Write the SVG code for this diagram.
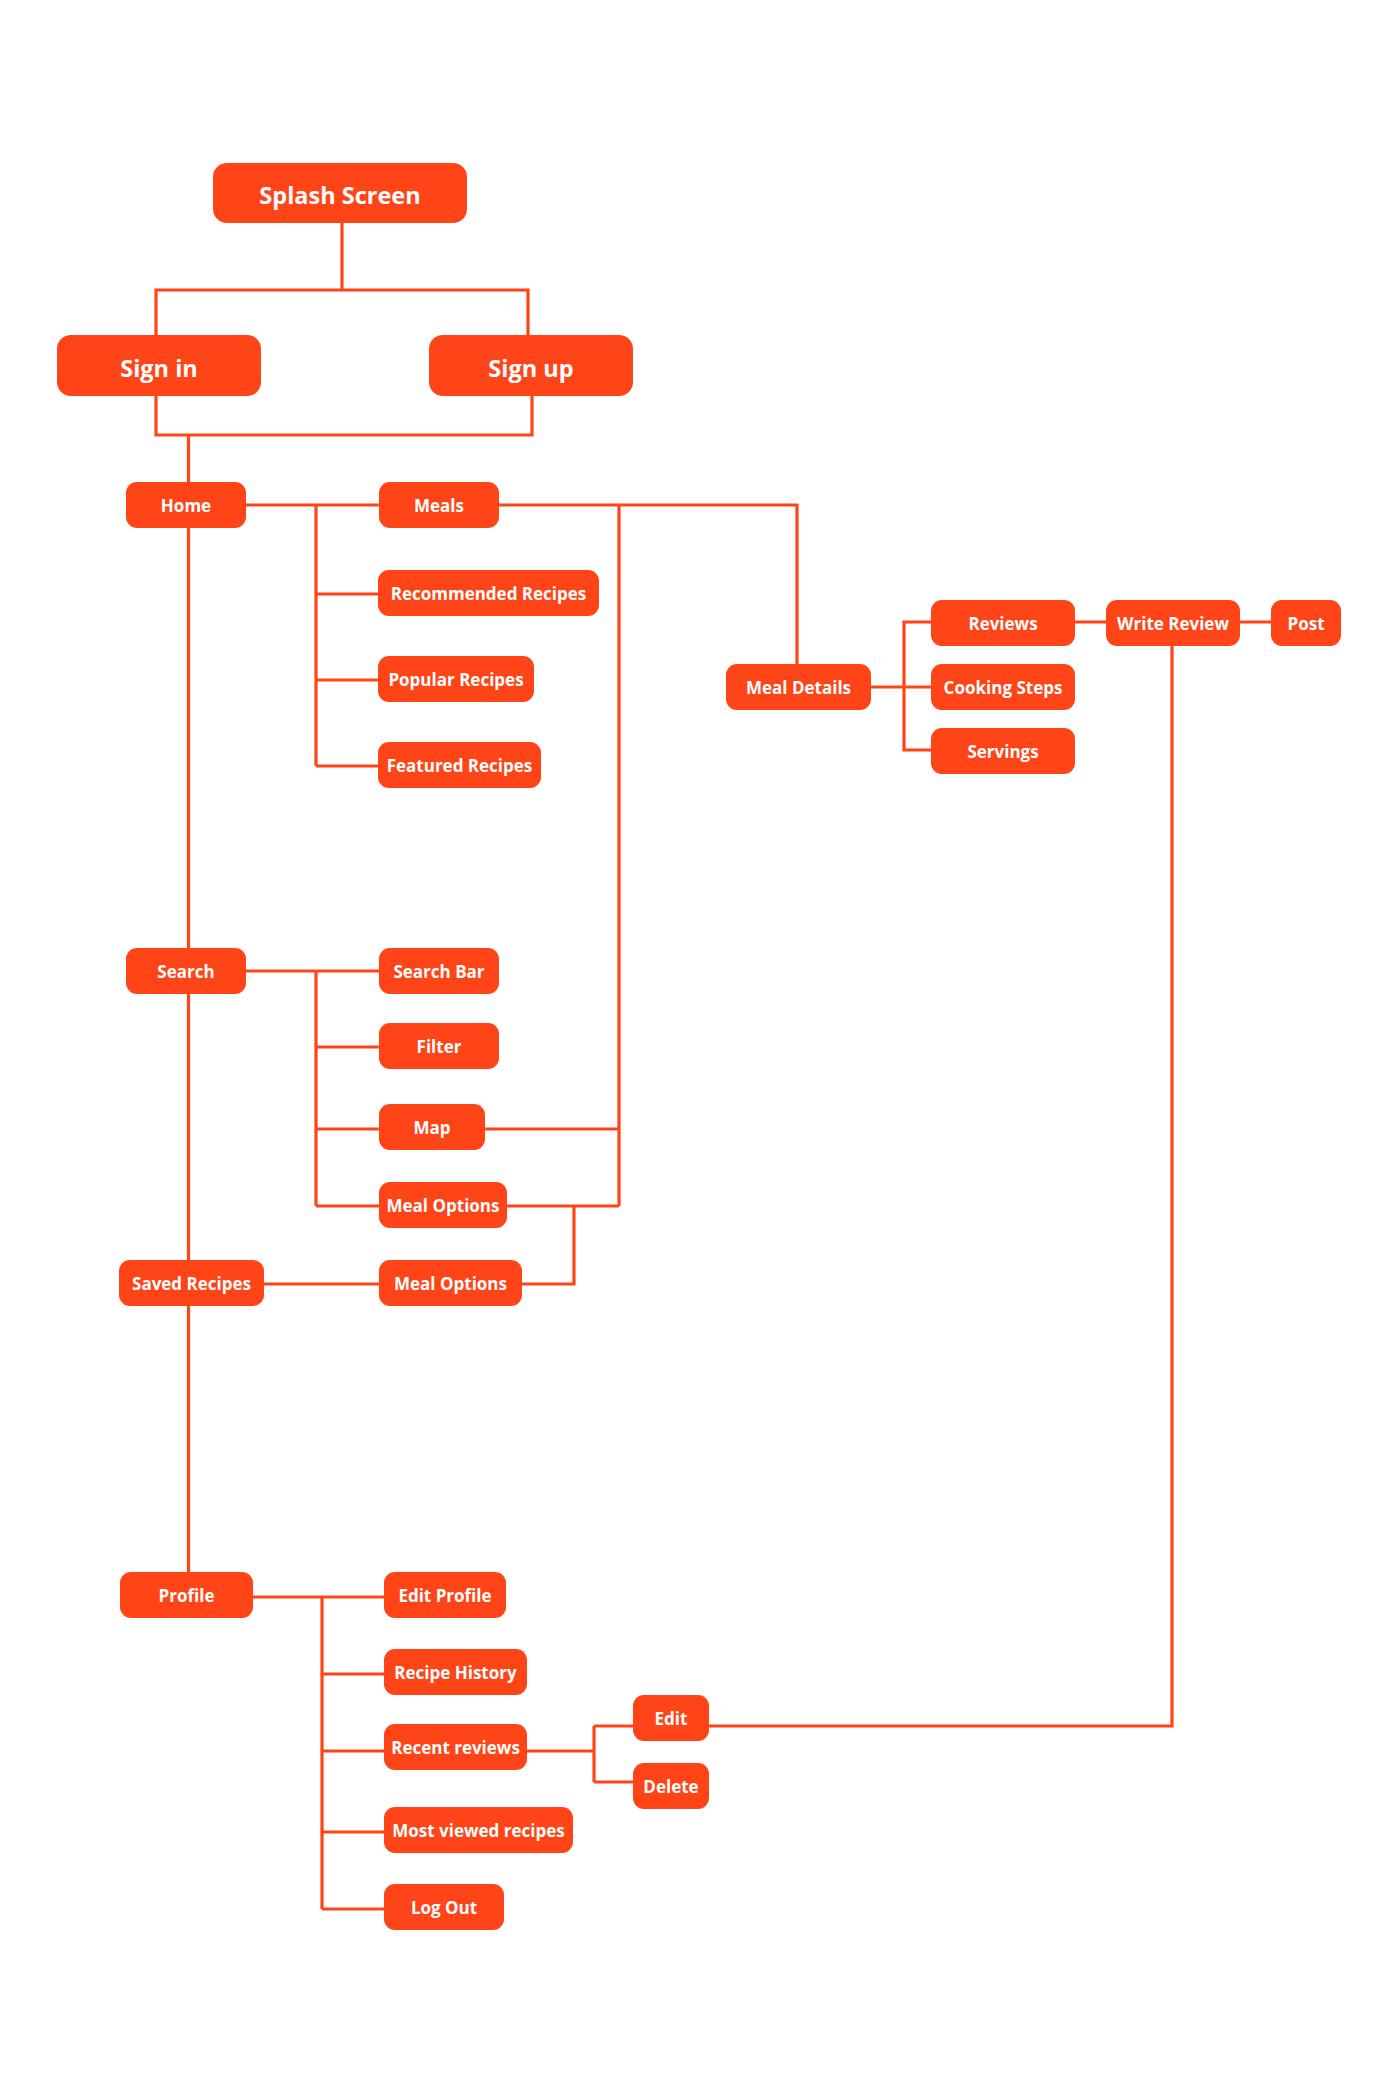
<svg xmlns="http://www.w3.org/2000/svg" width="1400" height="2094" viewBox="0 0 1400 2094">
<style>
.n rect{fill:#FF4417}
.n text{fill:#fff;font-family:"Open Sans","Noto Sans",sans-serif;font-weight:700;text-anchor:middle;font-size:17px}
.big text{font-size:23.5px}
#conn path{fill:none;stroke:#FF4417;stroke-width:3.2}
</style>
<rect width="1400" height="2094" fill="#fff"/>
<g id="conn">
<path d="M342 223V290M156 335V290H528V335"/>
<path d="M156 396V435H532V396M188.5 435V482"/>
<path d="M246 505H379M316 505V766M316 594H378M316 680H378M316 766H378"/>
<path d="M499 505H797V664M619 505V1206"/>
<path d="M871 687H931M931 622H904V750H931"/>
<path d="M1075 622H1106M1240 622H1271M1172 646V1726H709"/>
<path d="M188.5 528V948M246 971H379M316 971V1206M316 1047H379M316 1129H379M316 1206H379"/>
<path d="M485 1129H619M507 1206H619M574 1206V1284H522"/>
<path d="M188.5 994V1260M264 1284H379M188.5 1306V1572"/>
<path d="M253 1597H384M322 1597V1909M322 1674H384M322 1751H384M322 1832H384M322 1909H384"/>
<path d="M527 1751H594M594 1726V1782M594 1726H633M594 1782H633"/>
</g>
<g id="splash" class="n big"><rect x="213" y="163" width="254" height="60" rx="14"/><text x="340" y="203.5">Splash Screen</text></g>
<g id="signin" class="n big"><rect x="57" y="335" width="204" height="61" rx="14"/><text x="159" y="376.5">Sign in</text></g>
<g id="signup" class="n big"><rect x="429" y="335" width="204" height="61" rx="14"/><text x="531" y="376.5">Sign up</text></g>
<g id="home" class="n"><rect x="126" y="482" width="120" height="46" rx="11"/><text x="186" y="512">Home</text></g>
<g id="meals" class="n"><rect x="379" y="482" width="120" height="46" rx="11"/><text x="439" y="512">Meals</text></g>
<g id="recommended" class="n"><rect x="378" y="570" width="221" height="46" rx="11"/><text x="488.5" y="600">Recommended Recipes</text></g>
<g id="popular" class="n"><rect x="378" y="656" width="156" height="46" rx="11"/><text x="456" y="686">Popular Recipes</text></g>
<g id="featured" class="n"><rect x="378" y="742" width="163" height="46" rx="11"/><text x="459.5" y="772">Featured Recipes</text></g>
<g id="mealdetails" class="n"><rect x="726" y="664" width="145" height="46" rx="11"/><text x="798.5" y="694">Meal Details</text></g>
<g id="reviews" class="n"><rect x="931" y="600" width="144" height="46" rx="11"/><text x="1003" y="630">Reviews</text></g>
<g id="cooking" class="n"><rect x="931" y="664" width="144" height="46" rx="11"/><text x="1003" y="694">Cooking Steps</text></g>
<g id="servings" class="n"><rect x="931" y="728" width="144" height="46" rx="11"/><text x="1003" y="758">Servings</text></g>
<g id="writereview" class="n"><rect x="1106" y="600" width="134" height="46" rx="11"/><text x="1173" y="630">Write Review</text></g>
<g id="post" class="n"><rect x="1271" y="600" width="70" height="46" rx="11"/><text x="1306" y="630">Post</text></g>
<g id="search" class="n"><rect x="126" y="948" width="120" height="46" rx="11"/><text x="186" y="978">Search</text></g>
<g id="searchbar" class="n"><rect x="379" y="948" width="120" height="46" rx="11"/><text x="439" y="978">Search Bar</text></g>
<g id="filter" class="n"><rect x="379" y="1023" width="120" height="46" rx="11"/><text x="439" y="1053">Filter</text></g>
<g id="map" class="n"><rect x="379" y="1104" width="106" height="46" rx="11"/><text x="432" y="1134">Map</text></g>
<g id="mealoptions1" class="n"><rect x="379" y="1182" width="128" height="46" rx="11"/><text x="443" y="1212">Meal Options</text></g>
<g id="saved" class="n"><rect x="119" y="1260" width="145" height="46" rx="11"/><text x="191.5" y="1290">Saved Recipes</text></g>
<g id="mealoptions2" class="n"><rect x="379" y="1260" width="143" height="46" rx="11"/><text x="450.5" y="1290">Meal Options</text></g>
<g id="profile" class="n"><rect x="120" y="1572" width="133" height="46" rx="11"/><text x="186.5" y="1602">Profile</text></g>
<g id="editprofile" class="n"><rect x="384" y="1572" width="122" height="46" rx="11"/><text x="445" y="1602">Edit Profile</text></g>
<g id="recipehistory" class="n"><rect x="384" y="1649" width="143" height="46" rx="11"/><text x="455.5" y="1679">Recipe History</text></g>
<g id="recentreviews" class="n"><rect x="384" y="1724" width="143" height="46" rx="11"/><text x="455.5" y="1754">Recent reviews</text></g>
<g id="mostviewed" class="n"><rect x="384" y="1807" width="189" height="46" rx="11"/><text x="478.5" y="1837">Most viewed recipes</text></g>
<g id="logout" class="n"><rect x="384" y="1884" width="120" height="46" rx="11"/><text x="444" y="1914">Log Out</text></g>
<g id="edit" class="n"><rect x="633" y="1695" width="76" height="46" rx="11"/><text x="671" y="1725">Edit</text></g>
<g id="delete" class="n"><rect x="633" y="1763" width="76" height="46" rx="11"/><text x="671" y="1793">Delete</text></g>
</svg>
